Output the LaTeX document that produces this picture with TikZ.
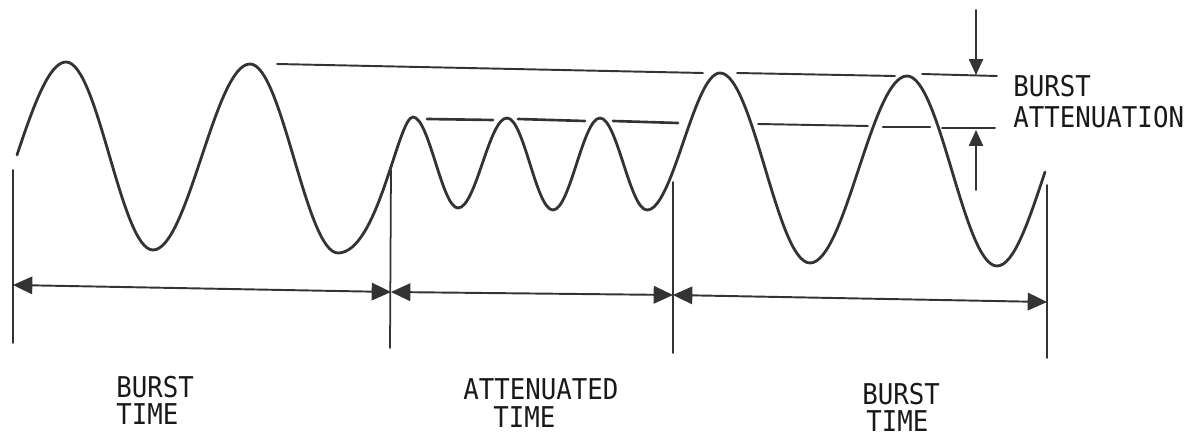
\documentclass[tikz,border=0pt]{standalone}
\usepackage{fontspec}
\usepackage{tikz}
\usetikzlibrary{arrows.meta}
\newfontfamily\letterfont[FakeStretch=0.9]{DejaVu Sans Mono}

\begin{document}
\begin{tikzpicture}[x=0.02cm,y=-0.02cm,line join=round,line cap=round,
  wave/.style={line width=1.6pt,black!80},
  level/.style={line width=1.1pt,black!80},
  tick/.style={line width=1pt,black!80},
  span/.style={line width=1.1pt,black!80,{Triangle[length=11pt,width=10pt]}-{Triangle[length=11pt,width=10pt]}},
  pin/.style={line width=1pt,black!80,-{Triangle[length=9pt,width=8pt]}},
  lbl/.style={anchor=base west,inner sep=0pt,black!90,font=\letterfont\fontsize{16.3pt}{16pt}\selectfont}]
  \useasboundingbox (0,0) rectangle (1194,438);
  \coordinate (S) at (17,155);
  \coordinate (P1) at (66,62);
  \coordinate (T1) at (153,250);
  \coordinate (P2) at (250,64);
  \coordinate (T2) at (338,253);
  \coordinate (A1) at (413,117);
  \coordinate (B1) at (458,208);
  \coordinate (A2) at (507,118);
  \coordinate (B2) at (553,210);
  \coordinate (A3) at (600,118);
  \coordinate (B3) at (647,210);
  \coordinate (P3) at (720,73);
  \coordinate (T3) at (810,263);
  \coordinate (P4) at (907,76);
  \coordinate (T4) at (997,266);
  \coordinate (E) at (1045,172);
  \coordinate (V0t) at (13,170);
  \coordinate (V0b) at (13,343);
  \coordinate (V1t) at (391,170);
  \coordinate (V1b) at (390,348);
  \coordinate (V2t) at (673,182);
  \coordinate (V2b) at (673,353);
  \coordinate (V3t) at (1047,185);
  \coordinate (V3b) at (1047,358);
  \coordinate (M0) at (13,285);
  \coordinate (M1) at (391,292);
  \coordinate (M2) at (673,295);
  \coordinate (M3) at (1047,302);
  \draw[wave] (S) .. controls +(16,-48) and +(-17,0) .. (P1)
    .. controls +(32,0) and +(-32,0) .. (T1)
    .. controls +(35,0) and +(-35,0) .. (P2)
    .. controls +(32,0) and +(-32,0) .. (T2)
    .. controls +(40,0) and +(-15,0) .. (A1)
    .. controls +(16,0) and +(-16,0) .. (B1)
    .. controls +(18,0) and +(-18,0) .. (A2)
    .. controls +(17,0) and +(-17,0) .. (B2)
    .. controls +(17,0) and +(-17,0) .. (A3)
    .. controls +(17,0) and +(-17,0) .. (B3)
    .. controls +(26,0) and +(-26,0) .. (P3)
    .. controls +(33,0) and +(-33,0) .. (T3)
    .. controls +(35,0) and +(-35,0) .. (P4)
    .. controls +(33,0) and +(-33,0) .. (T4)
    .. controls +(17,0) and +(-16,48) .. (E);
  \draw[level] (277,64) -- (703,73);
  \draw[level] (737,73) -- (895,76);
  \draw[level] (922,74) -- (997,76);
  \draw[level,line width=1.5pt] (427,119) -- (493,120);
  \draw[level,line width=1.5pt] (518,119) -- (585,121);
  \draw[level,line width=1.5pt] (613,121) -- (678,123);
  \draw[level] (758,124) -- (868,126);
  \draw[level,line width=1.5pt] (883,127) -- (930,127);
  \draw[level] (942,128) -- (995,128);
  \draw[pin] (976,10) -- (976,75);
  \draw[pin] (976,190) -- (976,130);
  \draw[tick] (V0t) -- (V0b);
  \draw[tick] (V1t) -- (V1b);
  \draw[tick] (V2t) -- (V2b);
  \draw[tick] (V3t) -- (V3b);
  \draw[span] (M0) -- (M1);
  \draw[span] (M1) -- (M2);
  \draw[span] (M2) -- (M3);
  \node[lbl] (ba1) at (1013,97) {BURST};
  \node[lbl] (ba2) at (1013,128) {ATTENUATION};
  \node[lbl] (bt1) at (116,398) {BURST};
  \node[lbl] (bt2) at (116,425) {TIME};
  \node[lbl] (at1) at (463,400) {ATTENUATED};
  \node[lbl] (at2) at (493,428) {TIME};
  \node[lbl] (ct1) at (862,405) {BURST};
  \node[lbl] (ct2) at (866,432) {TIME};
\end{tikzpicture}
\end{document}
